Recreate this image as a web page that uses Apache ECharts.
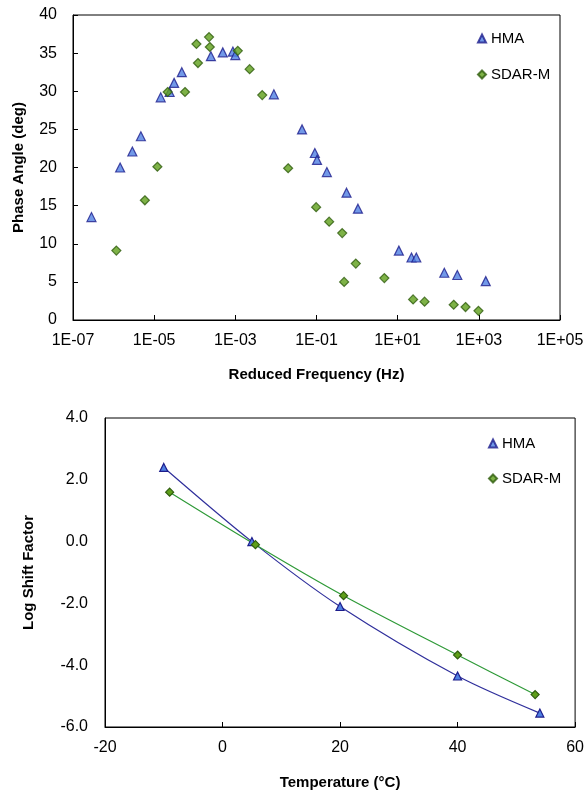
<!DOCTYPE html>
<html>
<head>
<meta charset="utf-8">
<script src="https://cdn.jsdelivr.net/npm/echarts@6/dist/echarts.min.js"></script>
<style>
  html, body { margin: 0; padding: 0; background: #fff; }
  #chart { width: 587px; height: 794px; }
</style>
</head>
<body>
<div id="chart"></div>
<script>
// Phase angle master curve (reduced frequency in Hz, phase angle in deg)
const hmaFreq = [2.85e-7, 1.45e-6, 2.9e-6, 4.7e-6, 1.45e-5, 2.4e-5, 3.1e-5, 4.8e-5,
  2.5e-4, 4.9e-4, 8.7e-4, 1.0e-3, 8.9e-3, 4.4e-2, 9.1e-2, 1.03e-1, 1.8e-1,
  5.5e-1, 1.05, 10.7, 21.9, 28.8, 141, 295, 1480];
const hmaPhase = [13.5, 20.0, 22.1, 24.1, 29.2, 29.9, 31.1, 32.5,
  34.6, 35.1, 35.2, 34.75, 29.6, 25.0, 21.9, 21.0, 19.4,
  16.7, 14.6, 9.1, 8.2, 8.2, 6.2, 5.9, 5.1];

const sdarFreq = [1.17e-6, 5.9e-6, 1.2e-5, 2.15e-5, 5.75e-5, 1.1e-4, 1.2e-4, 2.25e-4,
  2.35e-4, 1.15e-3, 2.25e-3, 4.6e-3, 2.0e-2, 9.8e-2, 2.05e-1, 4.3e-1,
  4.8e-1, 9.3e-1, 4.7, 24, 46, 240, 470, 980];
const sdarPhase = [9.1, 15.7, 20.1, 29.9, 29.9, 36.2, 33.7, 37.1,
  35.8, 35.3, 32.9, 29.5, 19.9, 14.8, 12.9, 11.4,
  5.0, 7.4, 5.5, 2.7, 2.4, 2.0, 1.7, 1.2];

// Shift factors versus temperature
const hmaTemp = [-10, 5, 20, 40, 54];
const hmaShift = [2.4, 0.0, -2.1, -4.35, -5.55];
const sdarTemp = [-9, 5.6, 20.6, 40, 53.2];
const sdarShift = [1.6, -0.1, -1.75, -3.67, -4.95];

const seriesNames = ['HMA', 'SDAR-M'];

const FONT = '"Liberation Sans", Arial, sans-serif';
const pairs = (xs, ys) => xs.map((x, i) => [x, ys[i]]);

const hmaStyle = { color: '#4f80e2', borderColor: '#1d1d8c', borderWidth: 1.2 };
const sdarStyle = { color: '#5e9f19', borderColor: '#2f5c0e', borderWidth: 1.2 };

function expLabel(v) {
  const e = Math.round(Math.log10(v));
  const sign = e < 0 ? '-' : '+';
  const a = Math.abs(e);
  return '1E' + sign + (a < 10 ? '0' : '') + a;
}

const axisText = { color: '#000', fontSize: 16, fontFamily: FONT };
const nameText = { color: '#000', fontSize: 15, fontWeight: 'bold', fontFamily: FONT };
const blackLine = { show: true, onZero: false, lineStyle: { color: '#000', width: 1 } };

function legendAt(left, top, gap) {
  return {
    left: left,
    top: top,
    orient: 'vertical',
    itemWidth: 8,
    itemHeight: 8,
    itemGap: gap,
    selectedMode: false,
    textStyle: { color: '#000', fontSize: 15, fontFamily: FONT },
    data: [{ name: seriesNames[0], icon: 'triangle' }, { name: seriesNames[1], icon: 'diamond' }]
  };
}

const chart = echarts.init(document.getElementById('chart'), null, { renderer: 'canvas' });
chart.setOption({
  animation: false,
  backgroundColor: '#fff',
  textStyle: { fontFamily: FONT },
  grid: [
    { left: 73, top: 15, width: 487, height: 305, show: true, borderColor: '#000', borderWidth: 1, containLabel: false },
    { left: 105, top: 418, width: 473, height: 309, show: true, borderColor: '#000', borderWidth: 1, containLabel: false }
  ],
  legend: [
    legendAt(472, 26, 21),
    legendAt(483, 431, 20)
  ],
  xAxis: [
    {
      gridIndex: 0, type: 'log', logBase: 10, min: 1e-7, max: 1e5, interval: 2,
      axisLine: blackLine,
      axisTick: { show: true, inside: true, length: 5, lineStyle: { color: '#000' } },
      axisLabel: Object.assign({ margin: 13, formatter: expLabel, showMinLabel: true, showMaxLabel: true }, axisText),
      splitLine: { show: false },
      minorTick: { show: false },
      name: 'Reduced Frequency (Hz)', nameLocation: 'middle', nameGap: 47, nameTextStyle: nameText
    },
    {
      gridIndex: 1, type: 'value', min: -20, max: 60, interval: 20,
      axisLine: blackLine,
      axisTick: { show: true, inside: true, length: 5, lineStyle: { color: '#000' } },
      axisLabel: Object.assign({ margin: 13 }, axisText),
      splitLine: { show: false },
      name: 'Temperature (°C)', nameLocation: 'middle', nameGap: 48, nameTextStyle: nameText
    }
  ],
  yAxis: [
    {
      gridIndex: 0, type: 'value', min: 0, max: 40, interval: 5,
      axisLine: blackLine,
      axisTick: { show: true, inside: true, length: 5, lineStyle: { color: '#000' } },
      axisLabel: Object.assign({ margin: 16 }, axisText),
      splitLine: { show: false },
      name: 'Phase Angle (deg)', nameLocation: 'middle', nameGap: 47, nameTextStyle: nameText
    },
    {
      gridIndex: 1, type: 'value', min: -6, max: 4, interval: 2,
      axisLine: blackLine,
      axisTick: { show: false },
      axisLabel: Object.assign({ margin: 17, formatter: v => v.toFixed(1) }, axisText),
      splitLine: { show: false },
      name: 'Log Shift Factor', nameLocation: 'middle', nameGap: 69, nameTextStyle: nameText
    }
  ],
  series: [
    {
      name: seriesNames[0], type: 'scatter', xAxisIndex: 0, yAxisIndex: 0,
      symbol: 'triangle', symbolSize: 9, itemStyle: hmaStyle,
      data: pairs(hmaFreq, hmaPhase)
    },
    {
      name: seriesNames[1], type: 'scatter', xAxisIndex: 0, yAxisIndex: 0,
      symbol: 'diamond', symbolSize: 9, itemStyle: sdarStyle,
      data: pairs(sdarFreq, sdarPhase)
    },
    {
      name: seriesNames[0], type: 'line', xAxisIndex: 1, yAxisIndex: 1,
      smooth: 0.3, symbol: 'triangle', symbolSize: 8, showAllSymbol: true,
      lineStyle: { color: '#30309c', width: 1.2 }, itemStyle: hmaStyle,
      data: pairs(hmaTemp, hmaShift)
    },
    {
      name: seriesNames[1], type: 'line', xAxisIndex: 1, yAxisIndex: 1,
      smooth: 0.3, symbol: 'diamond', symbolSize: 8, showAllSymbol: true,
      lineStyle: { color: '#2f9a38', width: 1.2 }, itemStyle: sdarStyle,
      data: pairs(sdarTemp, sdarShift)
    }
  ]
});
</script>
</body>
</html>
